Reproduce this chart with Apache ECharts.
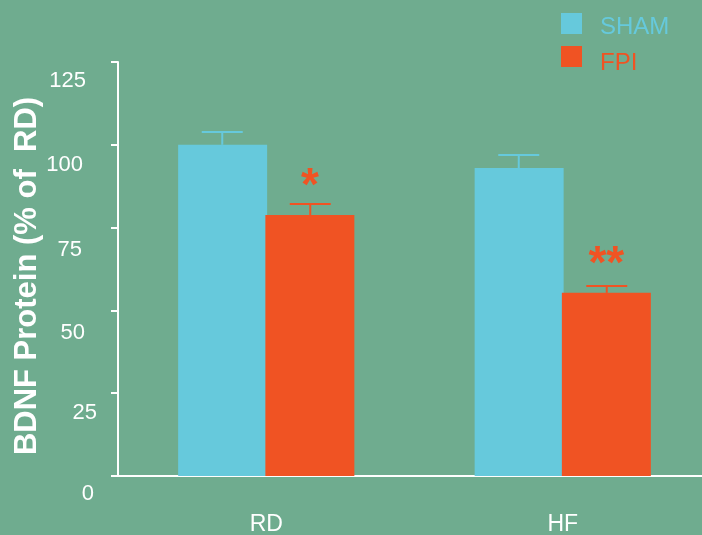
<!DOCTYPE html>
<html>
<head>
<meta charset="utf-8">
<script src="https://cdn.jsdelivr.net/npm/echarts@6/dist/echarts.min.js"></script>
<style>
  html, body { margin: 0; padding: 0; background: #6fac8f; }
  #chart { width: 702px; height: 535px; }
</style>
</head>
<body>
<div id="chart"></div>
<script>
// BDNF protein level by region, as % of RD
const categories = ['RD', 'HF'];
const seriesNames = ['SHAM', 'FPI'];
const shamValues = [100, 93];
const shamErrors = [3.9, 3.9];
const fpiValues = [78.8, 55.3];
const fpiErrors = [3.3, 2.1];
const significance = ['*', '**'];
const yTicks = [0, 25, 50, 75, 100, 125];

const SHAM_COLOR = '#66c9dc';
const FPI_COLOR = '#f05323';
const BAR_WIDTH = 89;
const BAR_OFFSET = 44;

// per-tick label nudges [down, left]
const tickNudge = {0: [18, 3], 25: [20, 0], 50: [23, 12], 75: [22, 15], 100: [20, 14], 125: [19, 11]};
const tickRich = {};
yTicks.forEach(function (t) {
  const n = tickNudge[t];
  tickRich['t' + t] = { fontSize: 22, color: '#fff', fontFamily: 'Liberation Sans, Arial, sans-serif',
    padding: [n[0] * 2, n[1], 0, 0] };
});

function legendFor(name, color, top, drop) {
  return {
    orient: 'vertical',
    left: 561,
    top: top,
    padding: 0,
    itemWidth: 21,
    itemHeight: 21,
    icon: 'rect',
    selectedMode: false,
    data: [{ name: name }],
    formatter: '{a|{name}}',
    textStyle: {
      rich: { a: { fontSize: 24, color: color, padding: [drop, 0, 0, 13],
        fontFamily: 'Liberation Sans, Arial, sans-serif' } }
    }
  };
}

function errorSeries(name, values, errors, color, offset) {
  return {
    type: 'custom',
    name: name + ' error',
    z: 3,
    silent: true,
    data: values.map(function (v, i) { return [i, v, v + errors[i]]; }),
    renderItem: function (params, api) {
      const base = api.coord([api.value(0), api.value(1)]);
      const top = api.coord([api.value(0), api.value(2)]);
      const x = base[0] + offset;
      const half = 20.5;
      const style = { stroke: color, lineWidth: 2 };
      return {
        type: 'group',
        children: [
          { type: 'line', shape: { x1: x, y1: base[1], x2: x, y2: top[1] }, style: style },
          { type: 'line', shape: { x1: x - half, y1: top[1], x2: x + half, y2: top[1] }, style: style }
        ]
      };
    }
  };
}

const chart = echarts.init(document.getElementById('chart'));
chart.setOption({
  backgroundColor: '#6fac8f',
  animation: false,
  textStyle: { fontFamily: 'Liberation Sans, Arial, sans-serif' },
  grid: { left: 118, top: 62, width: 593, bottom: 59, containLabel: false, outerBoundsMode: 'none' },
  legend: [
    legendFor(seriesNames[0], SHAM_COLOR, 13, 8),
    legendFor(seriesNames[1], FPI_COLOR, 46, 14)
  ],
  xAxis: {
    type: 'category',
    data: categories,
    axisLine: { lineStyle: { color: '#fff', width: 2 } },
    axisTick: { show: false },
    axisLabel: { color: '#fff', fontSize: 23, margin: 37 },
    splitLine: { show: false }
  },
  yAxis: {
    type: 'value',
    min: 0,
    max: 125,
    interval: 25,
    name: 'BDNF Protein (% of  RD)',
    nameLocation: 'middle',
    nameGap: 75,
    nameMoveOverlap: false,
    nameTextStyle: { color: '#fff', fontSize: 31, fontWeight: 'bold', padding: [0, 14, 0, 0] },
    axisLine: { show: true, lineStyle: { color: '#fff', width: 2 } },
    axisTick: { show: true, length: 7, lineStyle: { color: '#fff', width: 2 } },
    splitLine: { show: false },
    axisLabel: {
      margin: 21,
      formatter: function (v) { return '{t' + v + '|' + v + '}'; },
      rich: tickRich
    }
  },
  series: [
    {
      name: seriesNames[0],
      type: 'bar',
      data: shamValues,
      barWidth: BAR_WIDTH,
      barGap: '-2%',
      itemStyle: { color: SHAM_COLOR }
    },
    {
      name: seriesNames[1],
      type: 'bar',
      data: fpiValues,
      barWidth: BAR_WIDTH,
      itemStyle: { color: FPI_COLOR },
      label: {
        show: true,
        position: 'top',
        distance: 5,
        color: FPI_COLOR,
        fontSize: 46,
        fontWeight: 'bold',
        formatter: function (p) { return significance[p.dataIndex]; }
      }
    },
    errorSeries(seriesNames[0], shamValues, shamErrors, SHAM_COLOR, -BAR_OFFSET),
    errorSeries(seriesNames[1], fpiValues, fpiErrors, FPI_COLOR, BAR_OFFSET)
  ]
});
</script>
</body>
</html>
